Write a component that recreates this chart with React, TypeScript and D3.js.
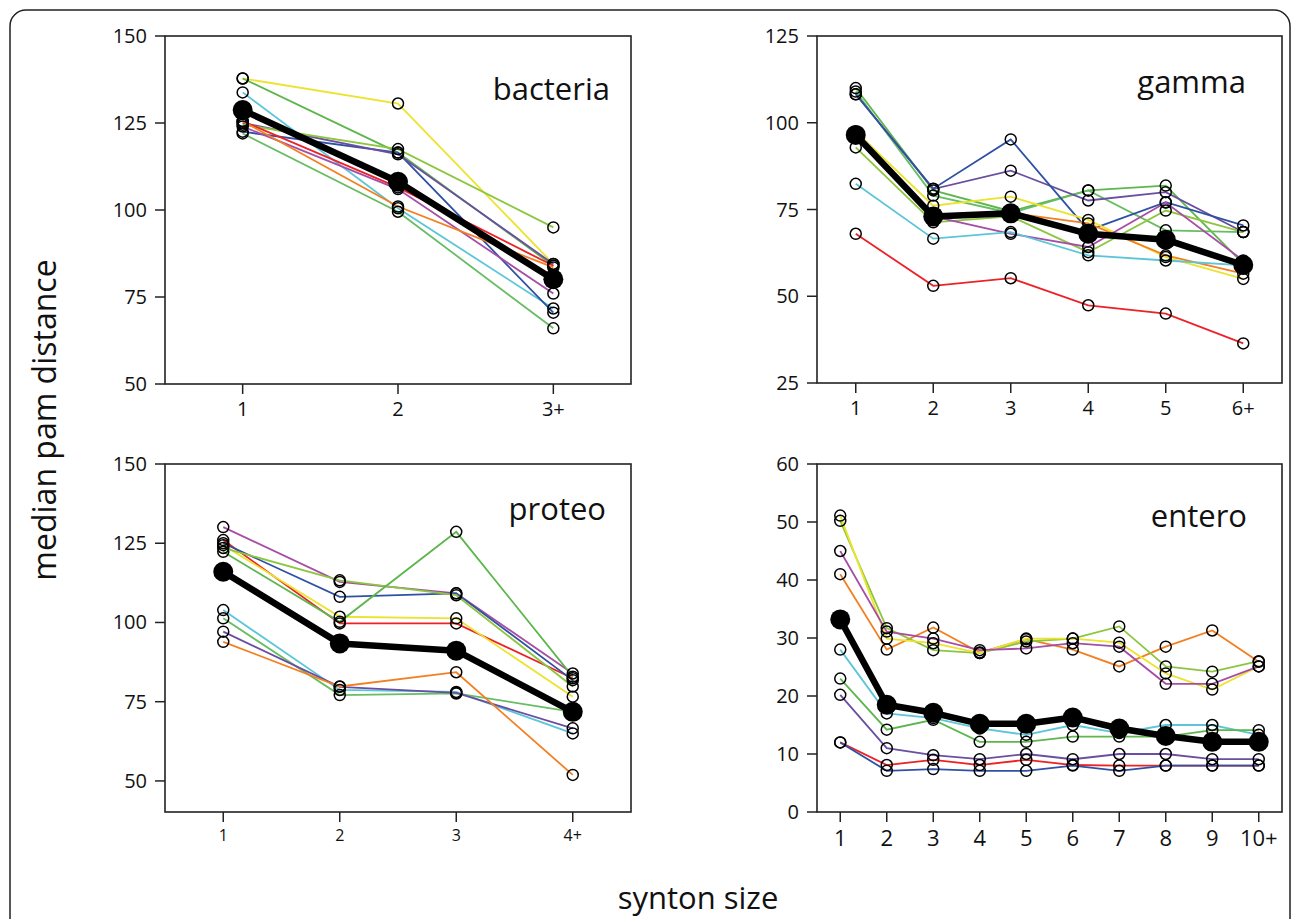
import React from 'react';
import * as d3 from 'd3';

// series keys shared by all four panels
const seriesColor: Record<string, string> = {
  A: '#ec2227', // red
  B: '#f47f20', // orange
  C: '#ece32f', // yellow
  D: '#8cc63e', // lime
  E: '#5db64c', // green
  F: '#67bd62', // green 2
  G: '#5cc6d8', // cyan
  H: '#2f51a3', // blue
  I: '#6a4ea1', // purple
  J: '#a64ea6', // magenta
};

const bacteriaCats = ['1', '2', '3+'];
const bacteriaMean = [128.7, 108.1, 80.1];
const bacteriaSeries = [
  { key: 'C', values: [137.8, 130.6, 84.5] },
  { key: 'E', values: [137.8, 116.5, 84] },
  { key: 'G', values: [133.8, 100.5, 71.7] },
  { key: 'H', values: [122.5, 116.5, 70.5] },
  { key: 'I', values: [125, 116, 84.5] },
  { key: 'D', values: [124.5, 117.5, 95] },
  { key: 'A', values: [125.5, 106.5, 84] },
  { key: 'J', values: [124, 106, 76] },
  { key: 'B', values: [125.5, 101, 83.5] },
  { key: 'F', values: [122, 99.5, 66] },
];

const gammaCats = ['1', '2', '3', '4', '5', '6+'];
const gammaMean = [96.5, 73, 73.9, 68, 66.3, 59];
const gammaSeries = [
  { key: 'E', values: [110, 80.5, 74.5, 80.5, 81.9, 59.4] },
  { key: 'F', values: [109, 79, 74, 80.5, 69, 68.5] },
  { key: 'I', values: [108.2, 80.9, 86.2, 77.6, 80, 68.5] },
  { key: 'H', values: [108.2, 81, 95.2, 69, 77.1, 70.4] },
  { key: 'C', values: [97.5, 76.1, 78.7, 72, 61.3, 55] },
  { key: 'B', values: [96.5, 73.5, 74, 71, 61.8, 56.5] },
  { key: 'D', values: [92.9, 71.3, 73, 62.7, 74.7, 68.5] },
  { key: 'J', values: [96, 73, 68, 64.2, 77, 60.3] },
  { key: 'G', values: [82.4, 66.6, 68.5, 61.8, 60.3, 58.9] },
  { key: 'A', values: [68, 53, 55.2, 47.4, 45, 36.4] },
];

const proteoCats = ['1', '2', '3', '4+'];
const proteoMean = [116, 93.4, 91.1, 71.8];
const proteoSeries = [
  { key: 'J', values: [130.1, 112.8, 109.2, 83.9] },
  { key: 'A', values: [126, 99.7, 99.7, 82.4] },
  { key: 'H', values: [125, 108.1, 109.2, 81.8] },
  { key: 'C', values: [124.4, 101.8, 101.3, 76.6] },
  { key: 'D', values: [123.5, 113.3, 108.6, 79.8] },
  { key: 'E', values: [122.3, 100.2, 128.6, 82.9] },
  { key: 'G', values: [103.9, 78.7, 78.1, 65] },
  { key: 'F', values: [101.3, 77.1, 77.6, 71.8] },
  { key: 'I', values: [97.1, 79.7, 77.8, 66.6] },
  { key: 'B', values: [93.9, 79.8, 84.3, 51.9] },
];

const enteroCats = ['1', '2', '3', '4', '5', '6', '7', '8', '9', '10+'];
const enteroMean = [33.2, 18.5, 17.1, 15.2, 15.2, 16.3, 14.4, 13.1, 12.1, 12.1];
const enteroSeries = [
  { key: 'B', values: [41, 28, 31.8, 27.5, 29.8, 28, 25.1, 28.5, 31.3, 25.9] },
  { key: 'D', values: [50.2, 31.7, 27.9, 27.4, 29.4, 29.9, 32, 25.1, 24.2, 26] },
  { key: 'C', values: [51.1, 29.9, 29.1, 27.4, 29.9, 29.9, 29.2, 23.9, 21.1, 25.1] },
  { key: 'J', values: [45, 31.1, 29.9, 27.9, 28.2, 29.1, 28.5, 22.1, 22.1, 25.1] },
  { key: 'G', values: [28, 17, 16.2, 14.4, 13.3, 15, 13.6, 15, 15, 13.3] },
  { key: 'E', values: [23, 14.2, 15.9, 12.1, 12.1, 13, 13, 13, 14.1, 14.1] },
  { key: 'I', values: [20.2, 11, 9.8, 9.1, 10, 9.1, 10, 10, 9.1, 9.1] },
  { key: 'A', values: [12, 8.1, 9, 8.1, 9, 8.1, 8, 8, 8, 8] },
  { key: 'H', values: [12, 7.1, 7.4, 7.1, 7.1, 8, 7.1, 8, 8, 8] },
];

const bacteriaTicks = [50, 75, 100, 125, 150];
const gammaTicks = [25, 50, 75, 100, 125];
const proteoTicks = [50, 75, 100, 125, 150];
const enteroTicks = [0, 10, 20, 30, 40, 50, 60];

const FONT = "'Open Sans', 'Noto Sans', sans-serif";

const panels = [
  { title: 'bacteria', cats: bacteriaCats, mean: bacteriaMean, series: bacteriaSeries, ticks: bacteriaTicks,
    yDomain: [50, 150], box: { l: 165, t: 36, r: 631, b: 384 }, xFont: 20, titleX: 610, titleY: 100 },
  { title: 'gamma', cats: gammaCats, mean: gammaMean, series: gammaSeries, ticks: gammaTicks,
    yDomain: [25, 125], box: { l: 817, t: 36, r: 1282, b: 383 }, xFont: 20, titleX: 1246, titleY: 93 },
  { title: 'proteo', cats: proteoCats, mean: proteoMean, series: proteoSeries, ticks: proteoTicks,
    yDomain: [40.2, 150], box: { l: 165, t: 464, r: 631, b: 812 }, xFont: 16, titleX: 606, titleY: 520 },
  { title: 'entero', cats: enteroCats, mean: enteroMean, series: enteroSeries, ticks: enteroTicks,
    yDomain: [0, 60], box: { l: 817, t: 464, r: 1282, b: 812 }, xFont: 22, titleX: 1247, titleY: 527 },
];

const Panel = ({ p }: { p: typeof panels[number] }) => {
  const { l, t, r, b } = p.box;
  const x = d3.scalePoint<string>().domain(p.cats).range([l, r]).padding(0.5);
  const y = d3.scaleLinear().domain(p.yDomain).range([b, t]);
  const line = d3.line<number>().x((_, i) => x(p.cats[i]) as number).y(d => y(d));

  return (
    <g>
      <rect x={l} y={t} width={r - l} height={b - t} fill="none" stroke="#222" strokeWidth={1.6} />
      {/* y axis */}
      {p.ticks.map(v => (
        <g key={'y' + v}>
          <line x1={l - 10} x2={l} y1={y(v)} y2={y(v)} stroke="#222" strokeWidth={1.5} />
          <text x={l - 18} y={y(v)} dy="0.35em" textAnchor="end" fontSize={20} fontFamily={FONT} fill="#111">{v}</text>
        </g>
      ))}
      {/* x axis */}
      {p.cats.map(c => (
        <g key={'x' + c}>
          <line x1={x(c)} x2={x(c)} y1={b} y2={b + 10} stroke="#222" strokeWidth={1.5} />
          <text x={x(c)} y={b + 16} dy="0.8em" textAnchor="middle" fontSize={p.xFont} fontFamily={FONT} fill="#111">{c}</text>
        </g>
      ))}
      <text x={p.titleX} y={p.titleY} textAnchor="end" fontSize={31} fontFamily={FONT} fill="#111">{p.title}</text>
      {/* colored series */}
      {p.series.map(s => (
        <path key={'l' + s.key} d={line(s.values) || ''} fill="none" stroke={seriesColor[s.key]} strokeWidth={1.8} />
      ))}
      {/* mean */}
      <path d={line(p.mean) || ''} fill="none" stroke="#000" strokeWidth={6.5} strokeLinejoin="round" />
      {p.mean.map((v, i) => (
        <circle key={'m' + i} cx={x(p.cats[i])} cy={y(v)} r={10} fill="#000" />
      ))}
      {p.series.map(s => s.values.map((v, i) => (
        <circle key={'c' + s.key + i} cx={x(p.cats[i])} cy={y(v)} r={5.5} fill="none" stroke="#000" strokeWidth={1.5} />
      )))}
    </g>
  );
};

export default function App() {
  return (
    <svg width={1293} height={919} style={{ position: 'absolute', left: 0, top: 0, background: '#fff' }}>
      <rect x={10} y={10} width={1280} height={960} rx={16} fill="#fff" stroke="#222" strokeWidth={1.5} />
      {panels.map(p => <Panel key={p.title} p={p} />)}
      <text transform="translate(56,420) rotate(-90)" textAnchor="middle" fontSize={32} fontFamily={FONT} fill="#111">median pam distance</text>
      <text x={698} y={909} textAnchor="middle" fontSize={31} fontFamily={FONT} fill="#111">synton size</text>
    </svg>
  );
}
